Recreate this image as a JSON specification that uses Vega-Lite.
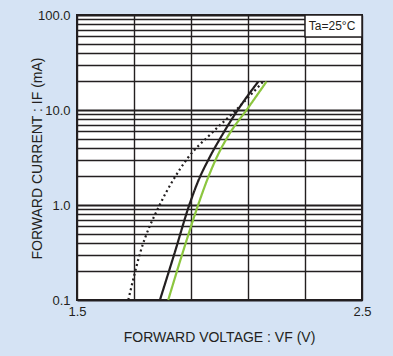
{
  "$schema": "https://vega.github.io/schema/vega-lite/v6.json",
  "width": 285,
  "height": 285,
  "autosize": {"type": "none"},
  "padding": {"left": 77, "top": 15, "right": 31, "bottom": 56},
  "background": "#d5e3f4",
  "config": {
    "view": {"fill": "#ffffff", "stroke": "#231f20", "strokeWidth": 2},
    "font": "Liberation Sans",
    "axis": {
      "labelFont": "Liberation Sans",
      "titleFont": "Liberation Sans",
      "labelColor": "#231f20",
      "titleColor": "#231f20",
      "labelFontSize": 13,
      "titleFontSize": 14,
      "titleFontWeight": "normal",
      "labelOverlap": false,
      "labelFlush": false,
      "ticks": false,
      "domain": false,
      "gridColor": "#231f20",
      "gridOpacity": 1
    }
  },
  "datasets": {
    "curves": [
      {"series": "A", "voltage": 1.680, "current": 0.1},
      {"series": "A", "voltage": 1.722, "current": 0.316},
      {"series": "A", "voltage": 1.790, "current": 1.0},
      {"series": "A", "voltage": 1.835, "current": 1.78},
      {"series": "A", "voltage": 1.890, "current": 3.16},
      {"series": "A", "voltage": 1.970, "current": 5.62},
      {"series": "A", "voltage": 2.058, "current": 10.0},
      {"series": "A", "voltage": 2.153, "current": 19.9},
      {"series": "B", "voltage": 1.791, "current": 0.1},
      {"series": "B", "voltage": 1.843, "current": 0.316},
      {"series": "B", "voltage": 1.894, "current": 1.0},
      {"series": "B", "voltage": 1.925, "current": 1.78},
      {"series": "B", "voltage": 1.965, "current": 3.16},
      {"series": "B", "voltage": 2.012, "current": 5.62},
      {"series": "B", "voltage": 2.064, "current": 10.0},
      {"series": "B", "voltage": 2.136, "current": 19.9},
      {"series": "C", "voltage": 1.820, "current": 0.1},
      {"series": "C", "voltage": 1.871, "current": 0.316},
      {"series": "C", "voltage": 1.925, "current": 1.0},
      {"series": "C", "voltage": 1.955, "current": 1.78},
      {"series": "C", "voltage": 1.990, "current": 3.16},
      {"series": "C", "voltage": 2.035, "current": 5.62},
      {"series": "C", "voltage": 2.095, "current": 10.0},
      {"series": "C", "voltage": 2.165, "current": 19.9}
    ],
    "note": [
      {"x1": 2.3, "x2": 2.5, "y1": 58.6, "y2": 100, "tx": 2.395, "ty": 76.6, "label": "Ta=25°C"}
    ]
  },
  "layer": [
    {
      "data": {"name": "curves"},
      "mark": {"type": "line", "interpolate": "monotone", "strokeWidth": 2.2},
      "encoding": {
        "x": {
          "field": "voltage", "type": "quantitative",
          "scale": {"domain": [1.5, 2.5], "nice": false, "zero": false},
          "axis": {
            "values": [1.5, 1.6, 1.7, 1.8, 1.9, 2, 2.1, 2.2, 2.3, 2.4, 2.5],
            "format": ".1f",
            "labelOpacity": {"condition": {"test": "indexof([1.5, 2, 2.5], datum.value) >= 0", "value": 1}, "value": 0},
            "labelOverlap": false,
            "labelFlush": false,
            "labelPadding": 5,
            "gridWidth": 1.4,
            "title": "FORWARD VOLTAGE : VF  (V)",
            "titleX": 142,
            "titleY": 37,
            "titleBaseline": "middle",
            "titleAnchor": "middle"
          }
        },
        "y": {
          "field": "current", "type": "quantitative",
          "scale": {"type": "log", "domain": [0.1, 100], "nice": false},
          "axis": {
            "values": [0.1, 0.2, 0.3, 0.4, 0.5, 0.6, 0.7, 0.8, 0.9, 1, 2, 3, 4, 5, 6, 7, 8, 9, 10, 20, 30, 40, 50, 60, 70, 80, 90, 100],
            "labelExpr": "indexof([0.1, 1, 10, 100], datum.value) >= 0 ? format(datum.value, '.1f') : ''",
            "labelOverlap": false,
            "labelFlush": false,
            "labelPadding": 7,
            "gridWidth": {"condition": {"test": "indexof([0.1, 1, 10, 100], datum.value) >= 0", "value": 2.2}, "value": 1.3},
            "title": "FORWARD CURRENT : IF  (mA)",
            "titleX": -40,
            "titleY": 143,
            "titleBaseline": "middle",
            "titleAnchor": "middle"
          }
        },
        "color": {
          "field": "series", "type": "nominal",
          "scale": {"domain": ["A", "B", "C"], "range": ["#231f20", "#231f20", "#8cc63f"]},
          "legend": null
        },
        "strokeDash": {
          "field": "series", "type": "nominal",
          "scale": {"domain": ["A", "B", "C"], "range": [[2, 3], [1, 0], [1, 0]]},
          "legend": null
        }
      }
    },
    {
      "data": {"name": "note"},
      "mark": {"type": "rect", "fill": "#ffffff", "stroke": "#231f20", "strokeWidth": 1.5},
      "encoding": {
        "x": {"field": "x1", "type": "quantitative"},
        "x2": {"field": "x2"},
        "y": {"field": "y1", "type": "quantitative"},
        "y2": {"field": "y2"}
      }
    },
    {
      "data": {"name": "note"},
      "mark": {"type": "text", "font": "Liberation Sans", "fontSize": 12, "color": "#231f20", "align": "center", "baseline": "middle"},
      "encoding": {
        "x": {"field": "tx", "type": "quantitative"},
        "y": {"field": "ty", "type": "quantitative"},
        "text": {"field": "label"}
      }
    }
  ]
}
